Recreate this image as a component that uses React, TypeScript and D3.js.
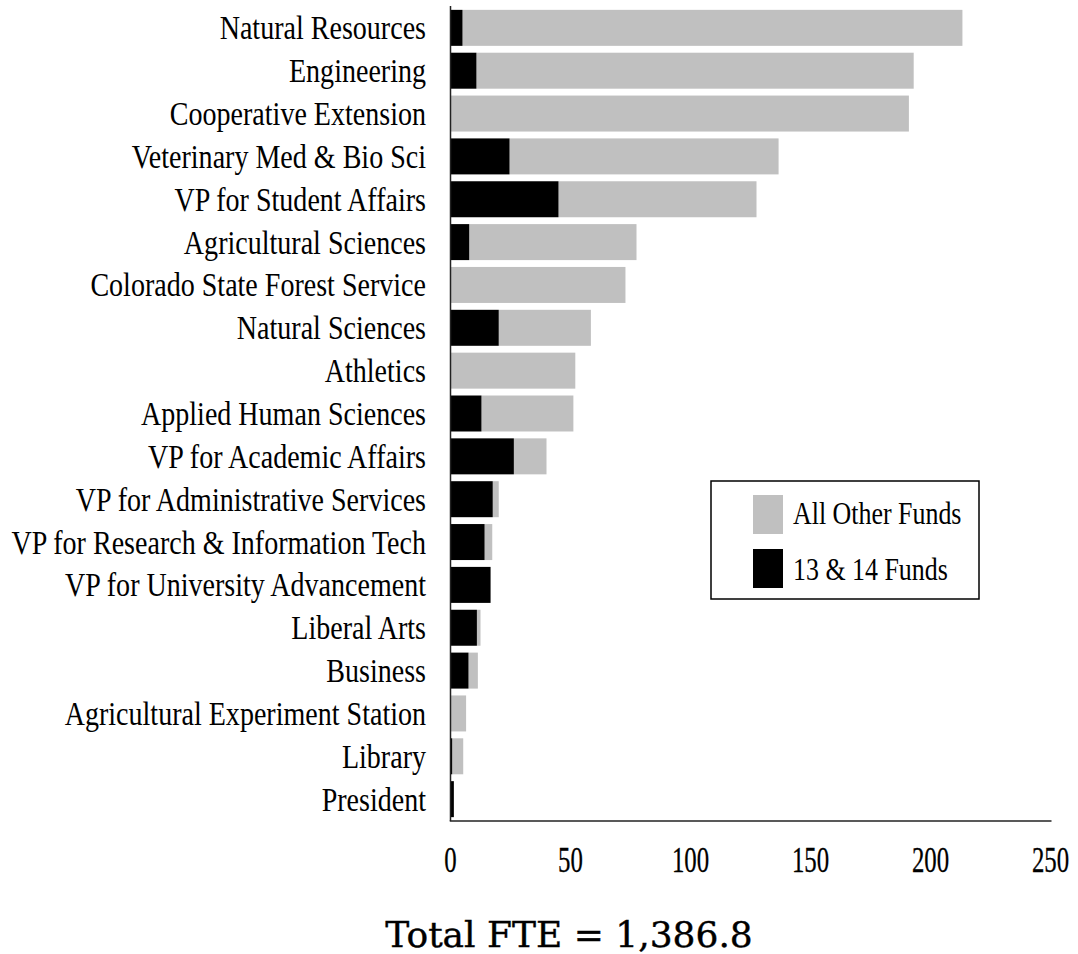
import React from "react";
import * as d3 from "d3";

// FTE by college / division, split by fund source
const categories = [
  "Natural Resources",
  "Engineering",
  "Cooperative Extension",
  "Veterinary Med & Bio Sci",
  "VP for Student Affairs",
  "Agricultural Sciences",
  "Colorado State Forest Service",
  "Natural Sciences",
  "Athletics",
  "Applied Human Sciences",
  "VP for Academic Affairs",
  "VP for Administrative Services",
  "VP for Research & Information Tech",
  "VP for University Advancement",
  "Liberal Arts",
  "Business",
  "Agricultural Experiment Station",
  "Library",
  "President",
];

// 13 & 14 Funds (black segment)
const funds1314 = [5.0, 10.8, 0, 24.6, 45.0, 7.8, 0, 20.1, 0, 12.9, 26.4, 17.6, 14.2, 16.7, 11.0, 7.5, 0, 0.7, 1.4];
// All Other Funds (gray segment)
const otherFunds = [208.3, 182.2, 191.0, 112.1, 82.5, 69.7, 72.9, 38.4, 52.0, 38.3, 13.6, 2.5, 3.2, 0, 1.5, 3.9, 6.5, 4.6, 0];

const xTicks = [0, 50, 100, 150, 200, 250];
const seriesNames = ["All Other Funds", "13 & 14 Funds"];
const seriesColors = ["#c0c0c0", "#000000"];
const totalLabel = "Total FTE = 1,386.8";

const W = 1078;
const H = 954;
const X0 = 450.5;
const X1 = 1050.5;
const Y0 = 6;
const Y1 = 821;

const labelFont = "'Liberation Serif', 'Times New Roman', serif";

export default function App() {
  const x = d3.scaleLinear().domain([0, 250]).range([X0, X1]);
  const y = d3
    .scaleBand<string>()
    .domain(categories)
    .range([Y0, Y1])
    .paddingInner(0.16)
    .paddingOuter(0.09);

  const rows = categories.map((c, i) => ({
    name: c,
    a: funds1314[i],
    b: otherFunds[i],
  }));

  const bw = y.bandwidth();

  return (
    <svg
      width={W}
      height={H}
      style={{ position: "absolute", left: 0, top: 0, background: "#fff" }}
    >
      {/* bars */}
      {rows.map((r) => {
        const yy = y(r.name)!;
        return (
          <g key={r.name}>
            {r.b > 0 && (
              <rect
                x={x(r.a)}
                y={yy}
                width={x(r.a + r.b) - x(r.a)}
                height={bw}
                fill={seriesColors[0]}
              />
            )}
            {r.a > 0 && (
              <rect
                x={x(0)}
                y={yy}
                width={x(r.a) - x(0)}
                height={bw}
                fill={seriesColors[1]}
              />
            )}
          </g>
        );
      })}

      {/* category labels */}
      {rows.map((r) => {
        const cy = y(r.name)! + bw / 2;
        return (
          <text
            key={"l" + r.name}
            transform={`translate(426,${cy + 11.5}) scale(0.82,1)`}
            textAnchor="end"
            fontFamily={labelFont}
            fontSize={34.2}
            fill="#000"
          >
            {r.name}
          </text>
        );
      })}

      {/* axes */}
      <line x1={X0} x2={X0} y1={Y0} y2={Y1} stroke="#222" strokeWidth={1.5} />
      <line x1={X0 - 0.75} x2={X1 + 1} y1={Y1} y2={Y1} stroke="#222" strokeWidth={1.5} />

      {xTicks.map((t) => (
        <text
          key={"t" + t}
          transform={`translate(${x(t)},872) scale(0.69,1)`}
          textAnchor="middle"
          fontFamily={labelFont}
          fontSize={36}
          fill="#000"
          stroke="#000"
          strokeWidth={0.3}
        >
          {t}
        </text>
      ))}

      {/* legend */}
      <rect x={711} y={481} width={268} height={118} fill="#fff" stroke="#000" strokeWidth={1.5} />
      {seriesNames.map((s, i) => (
        <g key={s}>
          <rect x={753} y={495 + i * 54} width={30} height={39} fill={seriesColors[i]} />
          <text
            transform={`translate(793,${524 + i * 56}) scale(0.81,1)`}
            fontFamily={labelFont}
            fontSize={32}
            fill="#000"
          >
            {s}
          </text>
        </g>
      ))}

      {/* total */}
      <text
        x={569}
        y={946.5}
        textAnchor="middle"
        fontFamily="'DejaVu Serif', serif"
        fontSize={36}
        fill="#000"
        stroke="#000"
        strokeWidth={0.4}
      >
        {totalLabel}
      </text>
    </svg>
  );
}
